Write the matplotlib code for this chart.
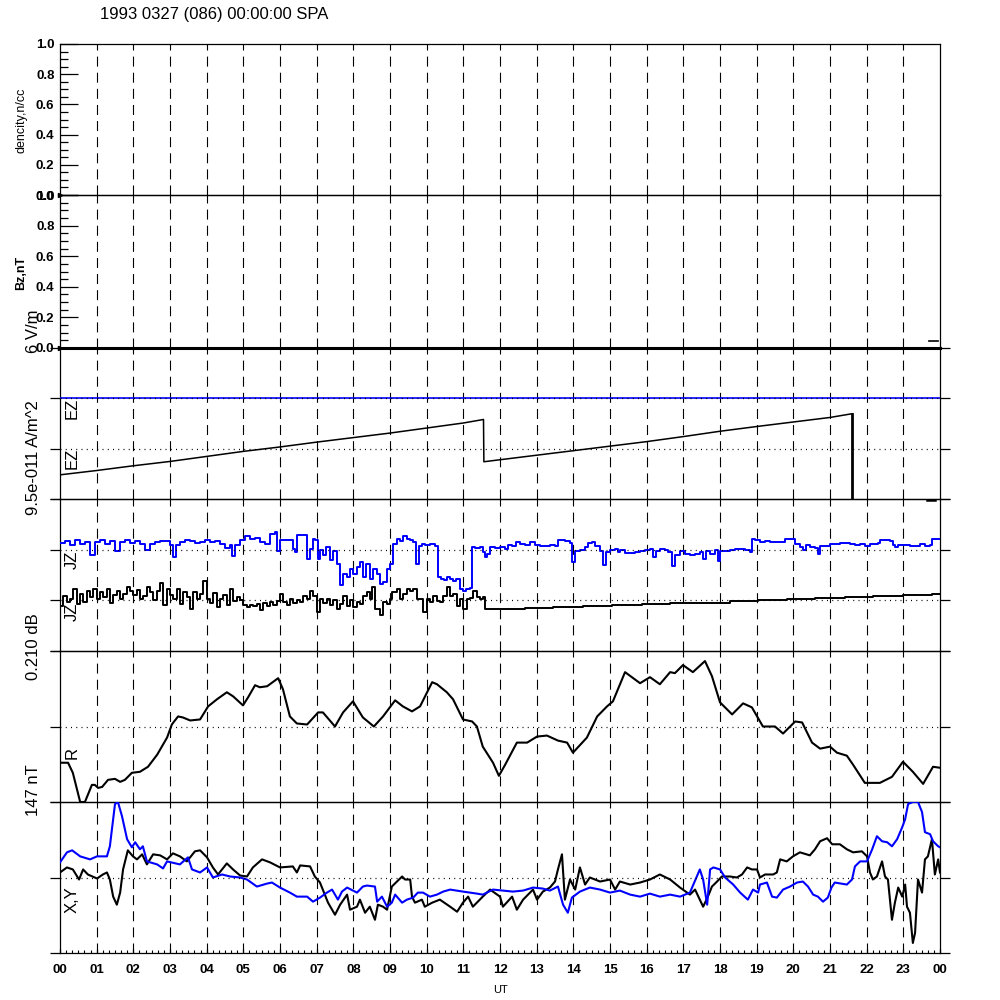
import numpy as np
import matplotlib
matplotlib.use('Agg')
import matplotlib.pyplot as plt
from matplotlib.ticker import MultipleLocator

plt.rcParams['font.family'] = ['Liberation Sans', 'DejaVu Sans']

# ---------------- data ----------------
title = "1993 0327 (086) 00:00:00 SPA"
hour_labels = ["00", "01", "02", "03", "04", "05", "06", "07", "08", "09", "10", "11",
               "12", "13", "14", "15", "16", "17", "18", "19", "20", "21", "22", "23", "00"]

# density panel (n/cc) - only a single point at start
dens_t = [0.0]
dens_v = [0.0]

# Bz panel (nT)
bz_t = [0.0, 24.0]
bz_v = [0.0, 0.0]
bz_tail_t = [23.7, 23.95]
bz_tail_v = [0.045, 0.045]

# EZ panel (relative units, 0-150)
ez_blue_t = [0.0, 24.0]
ez_blue_v = [100.0, 100.0]
ez_t = [0.0, 1.0, 2.0, 3.0, 4.0, 5.0, 6.0, 7.0, 8.0, 9.0, 10.0, 11.0, 11.55,
        11.56, 12.0, 13.0, 14.0, 15.0, 16.0, 17.0, 18.0, 19.0, 20.0, 21.0, 21.6]
ez_v = [24, 28.3, 33, 37.3, 42.3, 47.3, 51.7, 56.5, 61, 65.5, 70.5, 75.5, 79,
        37, 39, 43.5, 48, 52.5, 57, 62, 67.3, 72, 76.5, 81, 84.7]
ez_drop_t = [21.6, 21.6]
ez_drop_v = [84.7, 0.0]
ez_tail_t = [23.65, 23.85]
ez_tail_v = [-0.5, -0.5]

# JZ panel (relative units, 0-150)
jz_blue_t = [0.00, 0.14, 0.27, 0.41, 0.55, 0.68, 0.82, 0.95, 1.09, 1.23, 1.36, 1.50, 1.64, 1.77,
             1.91, 2.05, 2.18, 2.32, 2.45, 2.59, 2.73, 2.86, 3.00, 3.08, 3.16, 3.27, 3.41, 3.55,
             3.68, 3.82, 3.95, 4.09, 4.23, 4.36, 4.50, 4.64, 4.69, 4.77, 4.91, 5.05, 5.18, 5.32,
             5.45, 5.59, 5.73, 5.86, 5.92, 6.00, 6.14, 6.27, 6.35, 6.41, 6.46, 6.55, 6.68, 6.74,
             6.82, 6.90, 6.95, 7.04, 7.09, 7.17, 7.25, 7.36, 7.45, 7.55, 7.64, 7.72, 7.83, 7.91,
             7.99, 8.10, 8.18, 8.26, 8.35, 8.45, 8.54, 8.65, 8.73, 8.81, 8.92, 9.00, 9.08, 9.19,
             9.27, 9.35, 9.46, 9.55, 9.63, 9.71, 9.79, 9.87, 9.95, 10.09, 10.23, 10.31, 10.39,
             10.47, 10.55, 10.64, 10.72, 10.80, 10.91, 10.99, 11.07, 11.18, 11.24, 11.32, 11.45,
             11.53, 11.59, 11.64, 11.73, 11.86, 12.00, 12.14, 12.22, 12.33, 12.44, 12.55, 12.68,
             12.82, 12.95, 13.09, 13.23, 13.36, 13.50, 13.58, 13.69, 13.77, 13.91, 13.96, 14.05,
             14.18, 14.32, 14.40, 14.51, 14.59, 14.73, 14.81, 14.89, 15.00, 15.14, 15.22, 15.27,
             15.41, 15.55, 15.68, 15.82, 15.95, 16.09, 16.17, 16.25, 16.36, 16.50, 16.58, 16.69,
             16.77, 16.91, 17.05, 17.18, 17.32, 17.45, 17.54, 17.62, 17.73, 17.86, 17.95, 18.00,
             18.14, 18.27, 18.41, 18.55, 18.68, 18.82, 18.87, 18.95, 19.09, 19.23, 19.36, 19.50,
             19.64, 19.77, 19.91, 20.05, 20.18, 20.26, 20.35, 20.45, 20.59, 20.67, 20.73, 20.86,
             21.00, 21.27, 21.55, 21.68, 21.82, 21.95, 22.09, 22.31, 22.36, 22.64, 22.72, 22.77,
             22.86, 23.18, 23.45, 23.59, 23.73, 23.78, 24.00]
jz_blue_v = [107, 109, 105, 110, 106, 108, 95, 108, 110, 106, 109, 99, 108, 110,
             107, 109, 106, 100, 106, 108, 109, 109, 105, 93, 105, 108, 110, 109,
             107, 108, 110, 108, 109, 106, 102, 105, 94, 105, 110, 113, 111, 112,
             108, 106, 115, 117, 99, 110, 110, 110, 101, 98, 114, 114, 114, 91,
             101, 111, 110, 91, 100, 95, 103, 90, 99, 86, 65, 76, 73, 81,
             76, 83, 88, 73, 86, 71, 81, 76, 66, 68, 81, 86, 106, 111,
             109, 113, 111, 110, 108, 86, 104, 106, 105, 106, 104, 73, 71,
             70, 73, 71, 69, 71, 61, 59, 61, 62, 103, 102, 103,
             98, 93, 96, 103, 102, 103, 101, 105, 104, 108, 106, 105,
             108, 105, 104, 104, 105, 104, 110, 110, 109, 107, 88, 99,
             100, 103, 107, 108, 104, 99, 85, 98, 100, 101, 98, 100,
             97, 97, 98, 99, 100, 101, 93, 99, 101, 100, 98, 84,
             95, 99, 96, 95, 96, 98, 91, 99, 96, 100, 89, 99,
             99, 100, 101, 101, 100, 98, 111, 110, 108, 109, 108, 108,
             108, 111, 111, 106, 103, 100, 105, 103, 102, 96, 104, 104,
             106, 107, 106, 105, 106, 104, 106, 107, 110, 109, 105, 103,
             105, 104, 106, 104, 105, 111, 111]

jz_black_t = [0.00, 0.08, 0.19, 0.27, 0.35, 0.46, 0.55, 0.63, 0.74, 0.82, 0.90, 1.01, 1.09, 1.17,
              1.28, 1.36, 1.45, 1.55, 1.64, 1.72, 1.83, 1.91, 1.99, 2.10, 2.18, 2.26, 2.37, 2.45,
              2.54, 2.65, 2.73, 2.81, 2.92, 3.00, 3.08, 3.19, 3.27, 3.35, 3.46, 3.55, 3.63, 3.74,
              3.82, 3.90, 4.01, 4.09, 4.17, 4.28, 4.36, 4.45, 4.55, 4.64, 4.72, 4.83, 4.91, 4.99,
              5.10, 5.18, 5.26, 5.37, 5.45, 5.54, 5.65, 5.73, 5.81, 5.92, 6.00, 6.08, 6.19, 6.27,
              6.35, 6.46, 6.55, 6.63, 6.74, 6.82, 6.90, 7.01, 7.09, 7.17, 7.28, 7.36, 7.45, 7.55,
              7.64, 7.72, 7.83, 7.91, 7.99, 8.10, 8.18, 8.26, 8.37, 8.45, 8.51, 8.59, 8.73, 8.81,
              8.92, 9.00, 9.05, 9.19, 9.27, 9.35, 9.46, 9.55, 9.63, 9.74, 9.82, 9.90, 10.01, 10.09,
              10.17, 10.28, 10.36, 10.45, 10.55, 10.64, 10.72, 10.83, 10.91, 10.99, 11.10, 11.18,
              11.26, 11.37, 11.45, 11.53,
              11.59, 12.00, 12.68, 13.45, 14.26, 15.05, 15.87, 16.64, 17.45, 18.27, 19.04, 19.83,
              20.59, 21.41, 22.17, 22.99, 23.78, 24.00]
jz_black_v = [44, 54, 48, 51, 61, 46, 56, 48, 59, 53, 61, 51, 58, 53,
              61, 47, 55, 59, 51, 56, 63, 59, 55, 60, 51, 54, 63, 58,
              50, 59, 67, 45, 61, 55, 51, 61, 46, 58, 53, 41, 58, 51,
              56, 69, 51, 47, 57, 43, 51, 55, 45, 61, 49, 53, 50, 45,
              43, 45, 44, 46, 40, 47, 44, 48, 45, 49, 56, 48, 45, 51,
              47, 50, 48, 54, 51, 59, 54, 38, 51, 47, 51, 45, 50, 41,
              46, 54, 44, 50, 43, 48, 46, 54, 58, 51, 63, 41, 36, 48,
              46, 51, 58, 61, 51, 56, 61, 59, 61, 51, 51, 38, 51, 48,
              54, 49, 48, 54, 63, 54, 56, 44, 51, 41, 51, 52,
              59, 53, 51, 53,
              41, 41.7, 42.3, 43.3, 44.3, 45, 46, 47, 47.7, 49.3, 50.3, 51.7,
              52.7, 53.7, 54.7, 55.7, 56.7, 56.7]

# R panel (relative units, 0-150)
r_t = [0.00, 0.22, 0.35, 0.55, 0.68, 0.87, 0.95, 1.04, 1.15, 1.31, 1.50, 1.64, 1.77, 1.96,
       2.18, 2.40, 2.65, 2.92, 3.05, 3.22, 3.35, 3.55, 3.82, 4.04, 4.28, 4.55, 4.72, 4.99,
       5.13, 5.32, 5.45, 5.65, 5.95, 6.08, 6.27, 6.46, 6.74, 7.04, 7.17, 7.50, 7.72, 7.99,
       8.26, 8.56, 8.81, 9.14, 9.35, 9.60, 9.82, 10.15, 10.28, 10.55, 10.72, 10.99, 11.24,
       11.37, 11.53, 11.81, 11.97, 12.14, 12.46, 12.74, 13.01, 13.28, 13.58, 13.83, 13.99,
       14.37, 14.65, 14.92, 15.08, 15.41, 15.82, 16.09, 16.36, 16.64, 16.77, 16.99, 17.26,
       17.59, 17.78, 18.00, 18.33, 18.63, 18.87, 19.17, 19.50, 19.72, 20.05, 20.24, 20.51,
       20.73, 21.00, 21.19, 21.46, 21.63, 21.95, 22.36, 22.69, 22.99, 23.26, 23.54, 23.81, 24.00]
r_v = [39, 39, 29, 0, 0, 17, 17, 14, 15, 22, 23, 20, 22, 29,
       30, 35, 47, 64, 77, 85, 84, 81, 82, 95, 102, 109, 105, 96,
       104, 116, 114, 115, 123, 112, 85, 78, 77, 89, 89, 75, 89, 100,
       84, 75, 85, 101, 95, 90, 95, 119, 117, 109, 102, 82, 80,
       75, 55, 39, 26, 37, 59, 59, 65, 66, 61, 59, 49,
       64, 85, 95, 100, 129, 118, 124, 117, 129, 128, 136, 129,
       140, 125, 99, 87, 98, 94, 75, 75, 68, 80, 79, 59,
       53, 55, 49, 46, 37, 19, 19, 25, 40, 30, 18, 35, 34]

# X,Y panel (relative units, 0-150)
x_t = [0.00, 0.19, 0.35, 0.52, 0.63, 0.76, 1.01, 1.17, 1.28, 1.36, 1.45, 1.55, 1.64, 1.72,
       1.85, 1.99, 2.10, 2.24, 2.37, 2.54, 2.73, 2.92, 3.08, 3.27, 3.46, 3.68, 3.82, 4.01,
       4.17, 4.31, 4.55, 4.72, 4.91, 5.10, 5.26, 5.51, 5.73, 6.00, 6.35, 6.46, 6.55, 6.82,
       6.95, 7.09, 7.31, 7.50, 7.64, 7.83, 7.91, 8.10, 8.18, 8.32, 8.45, 8.59, 8.67, 8.81,
       8.92, 9.05, 9.19, 9.33, 9.41, 9.55, 9.60, 9.68, 9.87, 9.95, 10.15, 10.36, 10.64, 10.83,
       10.99, 11.13, 11.26, 11.53, 11.73, 12.00, 12.08, 12.33, 12.46, 12.63, 12.90, 13.01,
       13.17, 13.36, 13.50, 13.58, 13.69, 13.77, 13.91, 14.05, 14.18, 14.32, 14.45, 14.73,
       15.00, 15.14, 15.27, 15.55, 15.82, 16.09, 16.36, 16.64, 16.91, 17.18, 17.32, 17.45,
       17.54, 17.67, 17.78, 17.92, 18.05, 18.27, 18.46, 18.60, 18.74, 18.87, 19.01, 19.09,
       19.23, 19.45, 19.55, 19.64, 19.82, 19.99, 20.18, 20.45, 20.59, 20.73, 20.92, 21.06,
       21.27, 21.46, 21.63, 21.87, 22.01, 22.09, 22.17, 22.28, 22.42, 22.50, 22.58, 22.69,
       22.77, 22.86, 22.97, 23.05, 23.10, 23.18, 23.26, 23.32, 23.40, 23.51, 23.59, 23.67,
       23.78, 23.86, 23.95, 24.00]
x_v = [80, 85, 83, 73, 83, 78, 74, 78, 80, 73, 56, 48, 60, 83,
       102, 96, 93, 98, 88, 98, 97, 93, 99, 96, 91, 101, 102, 95,
       85, 78, 89, 83, 77, 76, 85, 93, 90, 85, 86, 80, 87, 86,
       76, 70, 50, 38, 48, 58, 43, 46, 53, 40, 46, 33, 48, 46,
       43, 66, 71, 76, 73, 73, 56, 50, 53, 46, 50, 53, 46, 41,
       50, 56, 46, 56, 63, 56, 46, 56, 43, 53, 63, 53,
       61, 65, 71, 83, 98, 53, 73, 63, 85, 68, 75, 71,
       73, 63, 71, 68, 70, 73, 78, 73, 65, 58, 63, 53,
       46, 56, 66, 71, 76, 76, 75, 78, 85, 83, 83, 75,
       78, 78, 80, 93, 91, 96, 100, 97, 103, 111, 114, 108,
       108, 103, 100, 101, 96, 80, 73, 76, 91, 76, 73, 33,
       50, 65, 56, 68, 46, 40, 10, 20, 73, 60, 93, 96,
       113, 78, 93, 80]

y_t = [0.00, 0.19, 0.33, 0.55, 0.82, 1.01, 1.28, 1.36, 1.50, 1.58, 1.69, 1.83, 1.96, 2.05,
       2.18, 2.26, 2.37, 2.65, 2.81, 2.92, 3.27, 3.49, 3.60, 3.82, 4.01, 4.17, 4.42, 4.64,
       4.91, 5.10, 5.37, 5.65, 5.78, 6.00, 6.27, 6.46, 6.74, 6.90, 7.09, 7.28, 7.42, 7.58,
       7.69, 7.83, 8.10, 8.26, 8.37, 8.59, 8.65, 8.78, 8.92, 9.05, 9.14, 9.33, 9.46, 9.63,
       9.76, 9.90, 10.09, 10.28, 10.45, 10.64, 10.99, 11.37, 11.53, 11.81, 12.08, 12.35,
       12.63, 12.90, 13.17, 13.36, 13.58, 13.72, 13.85, 13.96, 14.18, 14.45, 14.73, 15.00,
       15.27, 15.55, 15.82, 16.09, 16.36, 16.64, 16.91, 17.18, 17.45, 17.54, 17.65, 17.73,
       17.82, 18.00, 18.14, 18.36, 18.55, 18.76, 18.90, 19.04, 19.09, 19.28, 19.42, 19.55,
       19.72, 19.91, 20.10, 20.26, 20.40, 20.54, 20.67, 20.81, 20.94, 21.04, 21.13, 21.46,
       21.60, 21.68, 21.82, 22.01, 22.15, 22.28, 22.42, 22.56, 22.69, 22.83, 22.97, 23.05,
       23.13, 23.26, 23.40, 23.51, 23.59, 23.73, 23.81, 23.95, 24.00]
y_v = [90, 100, 102, 96, 93, 96, 96, 106, 148, 150, 136, 113, 105, 110,
       103, 106, 91, 88, 84, 91, 88, 95, 83, 80, 85, 75, 78, 76,
       75, 73, 66, 69, 70, 65, 60, 56, 56, 51, 55, 60, 63, 53,
       61, 65, 60, 66, 67, 66, 51, 56, 46, 50, 58, 50, 53, 55,
       60, 60, 56, 58, 61, 63, 61, 59, 58, 63, 62, 61,
       62, 65, 64, 62, 66, 48, 40, 55, 61, 65, 63, 60,
       62, 58, 56, 59, 56, 58, 56, 60, 83, 73, 48, 83,
       85, 83, 75, 68, 60, 53, 63, 60, 68, 70, 56, 55,
       63, 66, 70, 71, 66, 58, 56, 51, 55, 65, 70, 68,
       73, 86, 91, 91, 103, 116, 111, 110, 106, 113, 125, 133,
       148, 150, 150, 140, 120, 118, 111, 106, 105]

# ---------------- figure ----------------
fig = plt.figure(figsize=(10, 10), dpi=100)
left, width = 0.06, 0.88
bounds_px = [(44, 195), (195, 348), (348, 499), (499, 651), (651, 802), (802, 953)]
axes = []
for top, bot in bounds_px:
    ax = fig.add_axes([left, 1 - bot / 1000, width, (bot - top) / 1000])
    ax.set_xlim(0, 24)
    ax.set_facecolor('none')
    for s in ax.spines.values():
        s.set_linewidth(0.9)
    axes.append(ax)

BLUE = '#0000ff'
dash_style = (0, (9, 5.5))
dot_style = (0, (0.8, 3.4))

for ax in axes:
    for h in range(1, 24):
        ax.axvline(h, color='black', lw=0.8, linestyle=dash_style, zorder=1)
    ax.tick_params(axis='x', which='both', bottom=False, top=False, labelbottom=False)

# panel 1 & 2 : numeric y axes
for ax in axes[:2]:
    ax.set_ylim(0, 1.0)
    ax.yaxis.set_major_locator(MultipleLocator(0.2))
    ax.yaxis.set_minor_locator(MultipleLocator(0.05))
    ax.yaxis.set_major_formatter(matplotlib.ticker.FormatStrFormatter('%.1f'))
    ax.tick_params(axis='y', which='major', direction='in', length=13, width=0.9,
                   left=True, right=False, labelsize=9.5, pad=4)
    ax.tick_params(axis='y', which='minor', direction='in', length=6, width=0.9,
                   left=True, right=False)
    for lab in ax.get_yticklabels():
        lab.set_fontweight('bold')

axes[0].plot(dens_t, dens_v, marker='>', ms=3, color='black', clip_on=False, zorder=5)
axes[1].plot(bz_t, bz_v, color='black', lw=2.2, clip_on=False, zorder=5)
axes[1].plot(bz_tail_t, bz_tail_v, color='black', lw=1.2, zorder=5)
axes[1].plot([0.0], [0.0], marker='>', ms=3, color='black', clip_on=False, zorder=5)

# panels 3-6: relative units
guides = [[50, 100], [50, 100], [75], [75]]
for ax, g in zip(axes[2:], guides):
    ax.set_ylim(0, 150)
    ticks = [0] + g + [150]
    ax.set_yticks(ticks)
    ax.tick_params(axis='y', direction='out', length=7.2, width=0.9,
                   left=True, right=True, labelleft=False)
    for v in g:
        ax.axhline(v, color='black', lw=0.9, linestyle=dot_style, zorder=6)

# EZ
ax = axes[2]
ax.plot(ez_blue_t, ez_blue_v, color=BLUE, lw=1.2, zorder=3)
ax.plot(ez_t, ez_v, color='black', lw=1.1, zorder=4)
ax.plot(ez_drop_t, ez_drop_v, color='black', lw=2.0, zorder=4)
ax.plot(ez_tail_t, ez_tail_v, color='black', lw=1.8, clip_on=False, zorder=4)
ax.text(0.33, 101, 'EZ', rotation=90, ha='center', va='top', fontsize=12, zorder=7)
ax.text(0.33, 51, 'EZ', rotation=90, ha='center', va='top', fontsize=12, zorder=7)

# JZ
ax = axes[3]
ax.plot(jz_black_t, jz_black_v, color='black', lw=1.4, drawstyle='steps-post', zorder=3)
ax.plot(jz_blue_t, jz_blue_v, color=BLUE, lw=1.4, drawstyle='steps-post', zorder=4)
ax.text(0.33, 99, 'JZ', rotation=90, ha='center', va='top', fontsize=12, zorder=7)
ax.text(0.33, 48, 'JZ', rotation=90, ha='center', va='top', fontsize=12, zorder=7)

# R
ax = axes[4]
ax.plot(r_t, r_v, color='black', lw=1.5, zorder=4)
ax.text(0.33, 55, 'R', rotation=90, ha='center', va='top', fontsize=12, zorder=7)

# X,Y
ax = axes[5]
ax.plot(x_t, x_v, color='black', lw=1.5, zorder=3)
ax.plot(y_t, y_v, color=BLUE, lw=1.5, zorder=4)
ax.text(0.33, 66, 'X,Y', rotation=90, ha='center', va='top', fontsize=12, zorder=7)

# bottom time axis
ax = axes[5]
ax.set_xticks(range(0, 25))
ax.set_xticks(np.arange(0, 24.01, 1 / 6), minor=True)
ax.set_xticklabels(hour_labels)
ax.tick_params(axis='x', which='major', bottom=True, labelbottom=True, direction='in',
               length=3, width=0.9, labelsize=9.5, pad=8)
ax.tick_params(axis='x', which='minor', bottom=True, direction='in', length=2.5, width=0.8)
for lab in ax.get_xticklabels():
    lab.set_fontweight('bold')

# texts
fig.text(0.10, 0.985, title, ha='left', va='center', fontsize=12)
fig.text(0.022, 0.880, 'dencity,n/cc', rotation=90, ha='center', va='center', fontsize=9)
fig.text(0.021, 0.727, 'Bz,nT', rotation=90, ha='center', va='center', fontsize=9, fontweight='bold')
fig.text(0.033, 0.669, '6 V/m', rotation=90, ha='center', va='center', fontsize=12)
fig.text(0.033, 0.542, '9.5e-011 A/m^2', rotation=90, ha='center', va='center', fontsize=12)
fig.text(0.033, 0.353, '0.210 dB', rotation=90, ha='center', va='center', fontsize=12)
fig.text(0.033, 0.210, '147 nT', rotation=90, ha='center', va='center', fontsize=12)
fig.text(0.50, 0.010, 'UT', ha='center', va='center', fontsize=8)

fig.savefig('out.png', dpi=100)
